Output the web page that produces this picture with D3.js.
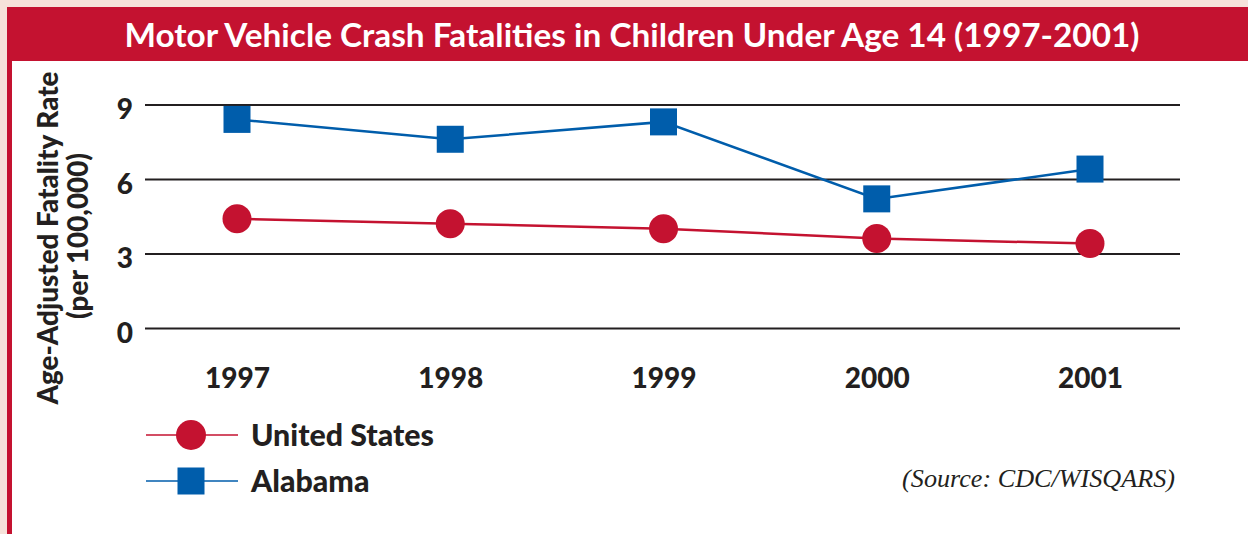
<!DOCTYPE html>
<html>
<head>
<meta charset="utf-8">
<script src="https://cdn.jsdelivr.net/npm/d3@7"></script>
<style>
  html, body { margin: 0; padding: 0; background: #f6e2da; }
  svg { display: block; }
</style>
</head>
<body>
<svg id="chart" width="1248" height="534"></svg>
<script>
// ---- data ----
const years = ["1997", "1998", "1999", "2000", "2001"];
const unitedStates = [4.4, 4.2, 4.0, 3.6, 3.4];
const alabama = [8.4, 7.6, 8.3, 5.2, 6.4];
const yTicks = [0, 3, 6, 9];
const seriesNames = ["United States", "Alabama"];
const titleText = "Motor Vehicle Crash Fatalities in Children Under Age 14 (1997-2001)";
const yTitleLines = ["Age-Adjusted Fatality Rate", "(per 100,000)"];
const sourceText = "(Source: CDC/WISQARS)";

// ---- styles ----
const RED = "#c41230";
const BLUE = "#005dab";
const INK = "#231f20";
const SANS = "Lato, 'Noto Sans', sans-serif";
const HEAVY = 900;

const svg = d3.select("#chart");

// frame
svg.append("rect").attr("x", 0).attr("y", 0).attr("width", 1248).attr("height", 534).attr("fill", "#f6e2da");
svg.append("rect").attr("x", 7).attr("y", 7).attr("width", 1241).attr("height", 527).attr("fill", RED);
svg.append("rect").attr("x", 12).attr("y", 61).attr("width", 1236).attr("height", 473).attr("fill", "#ffffff");

function fit(sel, target) {
  const w = sel.node().getComputedTextLength();
  const fs = parseFloat(sel.attr("font-size"));
  const nfs = fs * target / w;
  sel.attr("font-size", nfs.toFixed(2));
  return nfs;
}

// title
const title = svg.append("text")
  .attr("x", 632).attr("y", 47)
  .attr("text-anchor", "middle")
  .attr("font-family", SANS).attr("font-weight", 700)
  .attr("font-size", 32).attr("fill", "#ffffff")
  .text(titleText);
fit(title, 1015);

// scales
const x = d3.scalePoint().domain(years).range([237, 1090]);
const y = d3.scaleLinear().domain([0, 9]).range([328, 104.5]);
const gridLeft = 145, gridRight = 1180;

// y axis with gridlines
const yAxis = svg.append("g")
  .attr("transform", `translate(${gridLeft},0)`)
  .call(d3.axisLeft(y).tickValues(yTicks).tickFormat(d3.format("d"))
    .tickSize(-(gridRight - gridLeft)).tickPadding(12));
yAxis.select(".domain").remove();
yAxis.selectAll(".tick line").attr("stroke", INK).attr("stroke-width", 2);
yAxis.selectAll(".tick text")
  .attr("font-family", SANS).attr("font-weight", HEAVY).attr("font-size", 28)
  .attr("fill", INK).attr("dy", "0.5em");

// x axis labels
const xAxis = svg.append("g")
  .attr("transform", `translate(0,${y(0)})`)
  .call(d3.axisBottom(x).tickSize(0).tickPadding(0));
xAxis.select(".domain").remove();
xAxis.selectAll(".tick text")
  .attr("font-family", SANS).attr("font-weight", HEAVY).attr("font-size", 28)
  .attr("fill", INK).attr("dy", 60);

// y title
const yt = svg.append("text")
  .attr("transform", "translate(58,238) rotate(-90)")
  .attr("text-anchor", "middle")
  .attr("font-family", SANS).attr("font-weight", HEAVY).attr("font-size", 24)
  .attr("fill", INK);
const yl1 = yt.append("tspan").attr("x", 0).attr("y", 0).text(yTitleLines[0]);
const w1 = yl1.node().getComputedTextLength();
const yfs = 24 * 333 / w1;
yt.attr("font-size", yfs.toFixed(2));
yt.append("tspan").attr("x", 2).attr("y", 30).text(yTitleLines[1]);

// lines
const line = d3.line().x((d, i) => x(years[i])).y(d => y(d));
svg.append("path").datum(unitedStates).attr("d", line)
  .attr("fill", "none").attr("stroke", RED).attr("stroke-width", 2.5);
svg.append("path").datum(alabama).attr("d", line)
  .attr("fill", "none").attr("stroke", BLUE).attr("stroke-width", 2.5);

// markers
const SQ = 27, R = 14.5;
svg.append("g").selectAll("circle").data(unitedStates).join("circle")
  .attr("cx", (d, i) => x(years[i])).attr("cy", d => y(d)).attr("r", R).attr("fill", RED);
svg.append("g").selectAll("rect").data(alabama).join("rect")
  .attr("x", (d, i) => x(years[i]) - SQ / 2).attr("y", d => y(d) - SQ / 2)
  .attr("width", SQ).attr("height", SQ).attr("fill", BLUE);

// legend
const legendY = [435, 481];
const legend = svg.append("g");
let legendFs = 29;
seriesNames.forEach((name, i) => {
  const col = i === 0 ? RED : BLUE;
  legend.append("line").attr("x1", 146).attr("x2", 238)
    .attr("y1", legendY[i]).attr("y2", legendY[i])
    .attr("stroke", col).attr("stroke-width", 1.5);
  if (i === 0) {
    legend.append("circle").attr("cx", 191).attr("cy", legendY[i]).attr("r", 15).attr("fill", col);
  } else {
    legend.append("rect").attr("x", 191 - SQ / 2).attr("y", legendY[i] - SQ / 2)
      .attr("width", SQ).attr("height", SQ).attr("fill", col);
  }
  const t = legend.append("text").attr("x", 251).attr("y", legendY[i] + 11)
    .attr("font-family", SANS).attr("font-weight", HEAVY).attr("font-size", legendFs)
    .attr("fill", INK).text(name);
  if (i === 0) legendFs = fit(t, 183);
});

// source
const src = svg.append("text")
  .attr("x", 1175).attr("y", 487).attr("text-anchor", "end")
  .attr("font-family", "'Liberation Serif', 'DejaVu Serif', serif")
  .attr("font-style", "italic").attr("font-size", 24).attr("fill", INK)
  .text(sourceText);
fit(src, 273);
</script>
</body>
</html>
